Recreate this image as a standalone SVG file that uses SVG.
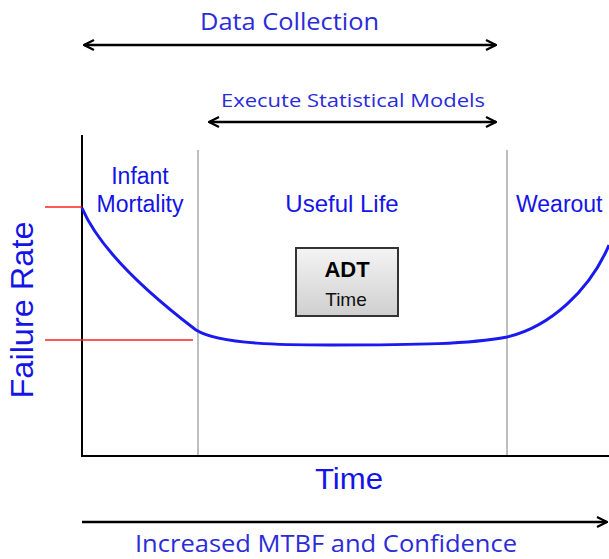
<svg xmlns="http://www.w3.org/2000/svg" width="609" height="559" viewBox="0 0 609 559">
<defs>
<marker id="ah" viewBox="0 0 12 12" refX="11" refY="6" markerWidth="12" markerHeight="12" markerUnits="userSpaceOnUse" orient="auto-start-reverse">
<path d="M1,1 L11,6 L1,11" fill="none" stroke="#000" stroke-width="2.2"/>
</marker>
<linearGradient id="g" x1="0" y1="0" x2="0" y2="1">
<stop offset="0" stop-color="#f4f4f4"/>
<stop offset="1" stop-color="#cfcfcf"/>
</linearGradient>
</defs>
<style>
.lbl{font-family:"Open Sans","Liberation Sans",sans-serif;fill:#2b2bd9}
.blue{font-family:"Liberation Sans",Arial,sans-serif;fill:#1414e6}
.arr{stroke:#000;stroke-width:2.5;fill:none}
.grid{stroke:#a8a8a8;stroke-width:1.5}
.red{stroke:#ff2020;stroke-width:1.5}
</style>
<rect width="609" height="559" fill="#fff"/>
<g id="connectors">
<line class="arr" x1="84" y1="45" x2="496" y2="45" marker-start="url(#ah)" marker-end="url(#ah)"/>
<line class="arr" x1="209" y1="122" x2="496" y2="122" marker-start="url(#ah)" marker-end="url(#ah)"/>
<line class="arr" x1="82" y1="522" x2="607" y2="522" marker-end="url(#ah)"/>
</g>
<g id="axes">
<line class="grid" x1="198" y1="150" x2="198" y2="457"/>
<line class="grid" x1="507" y1="150" x2="507" y2="457"/>
<line stroke="#000" stroke-width="2" x1="82" y1="135" x2="82" y2="457"/>
<line stroke="#000" stroke-width="2" x1="81" y1="456" x2="609" y2="456"/>
<line class="red" x1="45" y1="207" x2="82" y2="207"/>
<line class="red" x1="45" y1="340" x2="193" y2="340"/>
</g>
<g id="curve">
<path d="M82,208 C100,250 150,295 196,330 C220,345 290,345 330,345 C420,345 470,344 507,337 C550,327 590,290 609,245" fill="none" stroke="#1a1af0" stroke-width="3"/>
</g>
<g id="data-collection"><text class="lbl" x="200" y="30" font-size="23" textLength="179" lengthAdjust="spacingAndGlyphs">Data Collection</text></g>
<g id="execute"><text class="lbl" x="221" y="107" font-size="19" textLength="264" lengthAdjust="spacingAndGlyphs">Execute Statistical Models</text></g>
<g id="infant"><text class="blue" x="140" y="184" font-size="23" text-anchor="middle">Infant</text><text class="blue" x="140" y="212" font-size="23" text-anchor="middle">Mortality</text></g>
<g id="useful"><text class="blue" x="342" y="212" font-size="24" text-anchor="middle">Useful Life</text></g>
<g id="wearout"><text class="blue" x="516" y="212" font-size="23">Wearout</text></g>
<g id="adt">
<rect x="296" y="248" width="102" height="68" fill="url(#g)" stroke="#333" stroke-width="2"/>
<text x="347" y="277" font-family="Liberation Sans,Arial,sans-serif" font-size="22" font-weight="bold" text-anchor="middle" fill="#000">ADT</text>
<text x="346" y="306" font-family="Liberation Sans,Arial,sans-serif" font-size="19" text-anchor="middle" fill="#111">Time</text>
</g>
<g id="failure-rate"><text class="blue" x="0" y="0" font-size="31" text-anchor="middle" textLength="177" lengthAdjust="spacingAndGlyphs" transform="translate(33,310) rotate(-90)">Failure Rate</text></g>
<g id="time"><text class="blue" x="349" y="489" font-size="30" text-anchor="middle" textLength="68" lengthAdjust="spacingAndGlyphs">Time</text></g>
<g id="mtbf"><text class="lbl" x="135" y="552" font-size="23" textLength="382" lengthAdjust="spacingAndGlyphs">Increased MTBF and Confidence</text></g>
</svg>
